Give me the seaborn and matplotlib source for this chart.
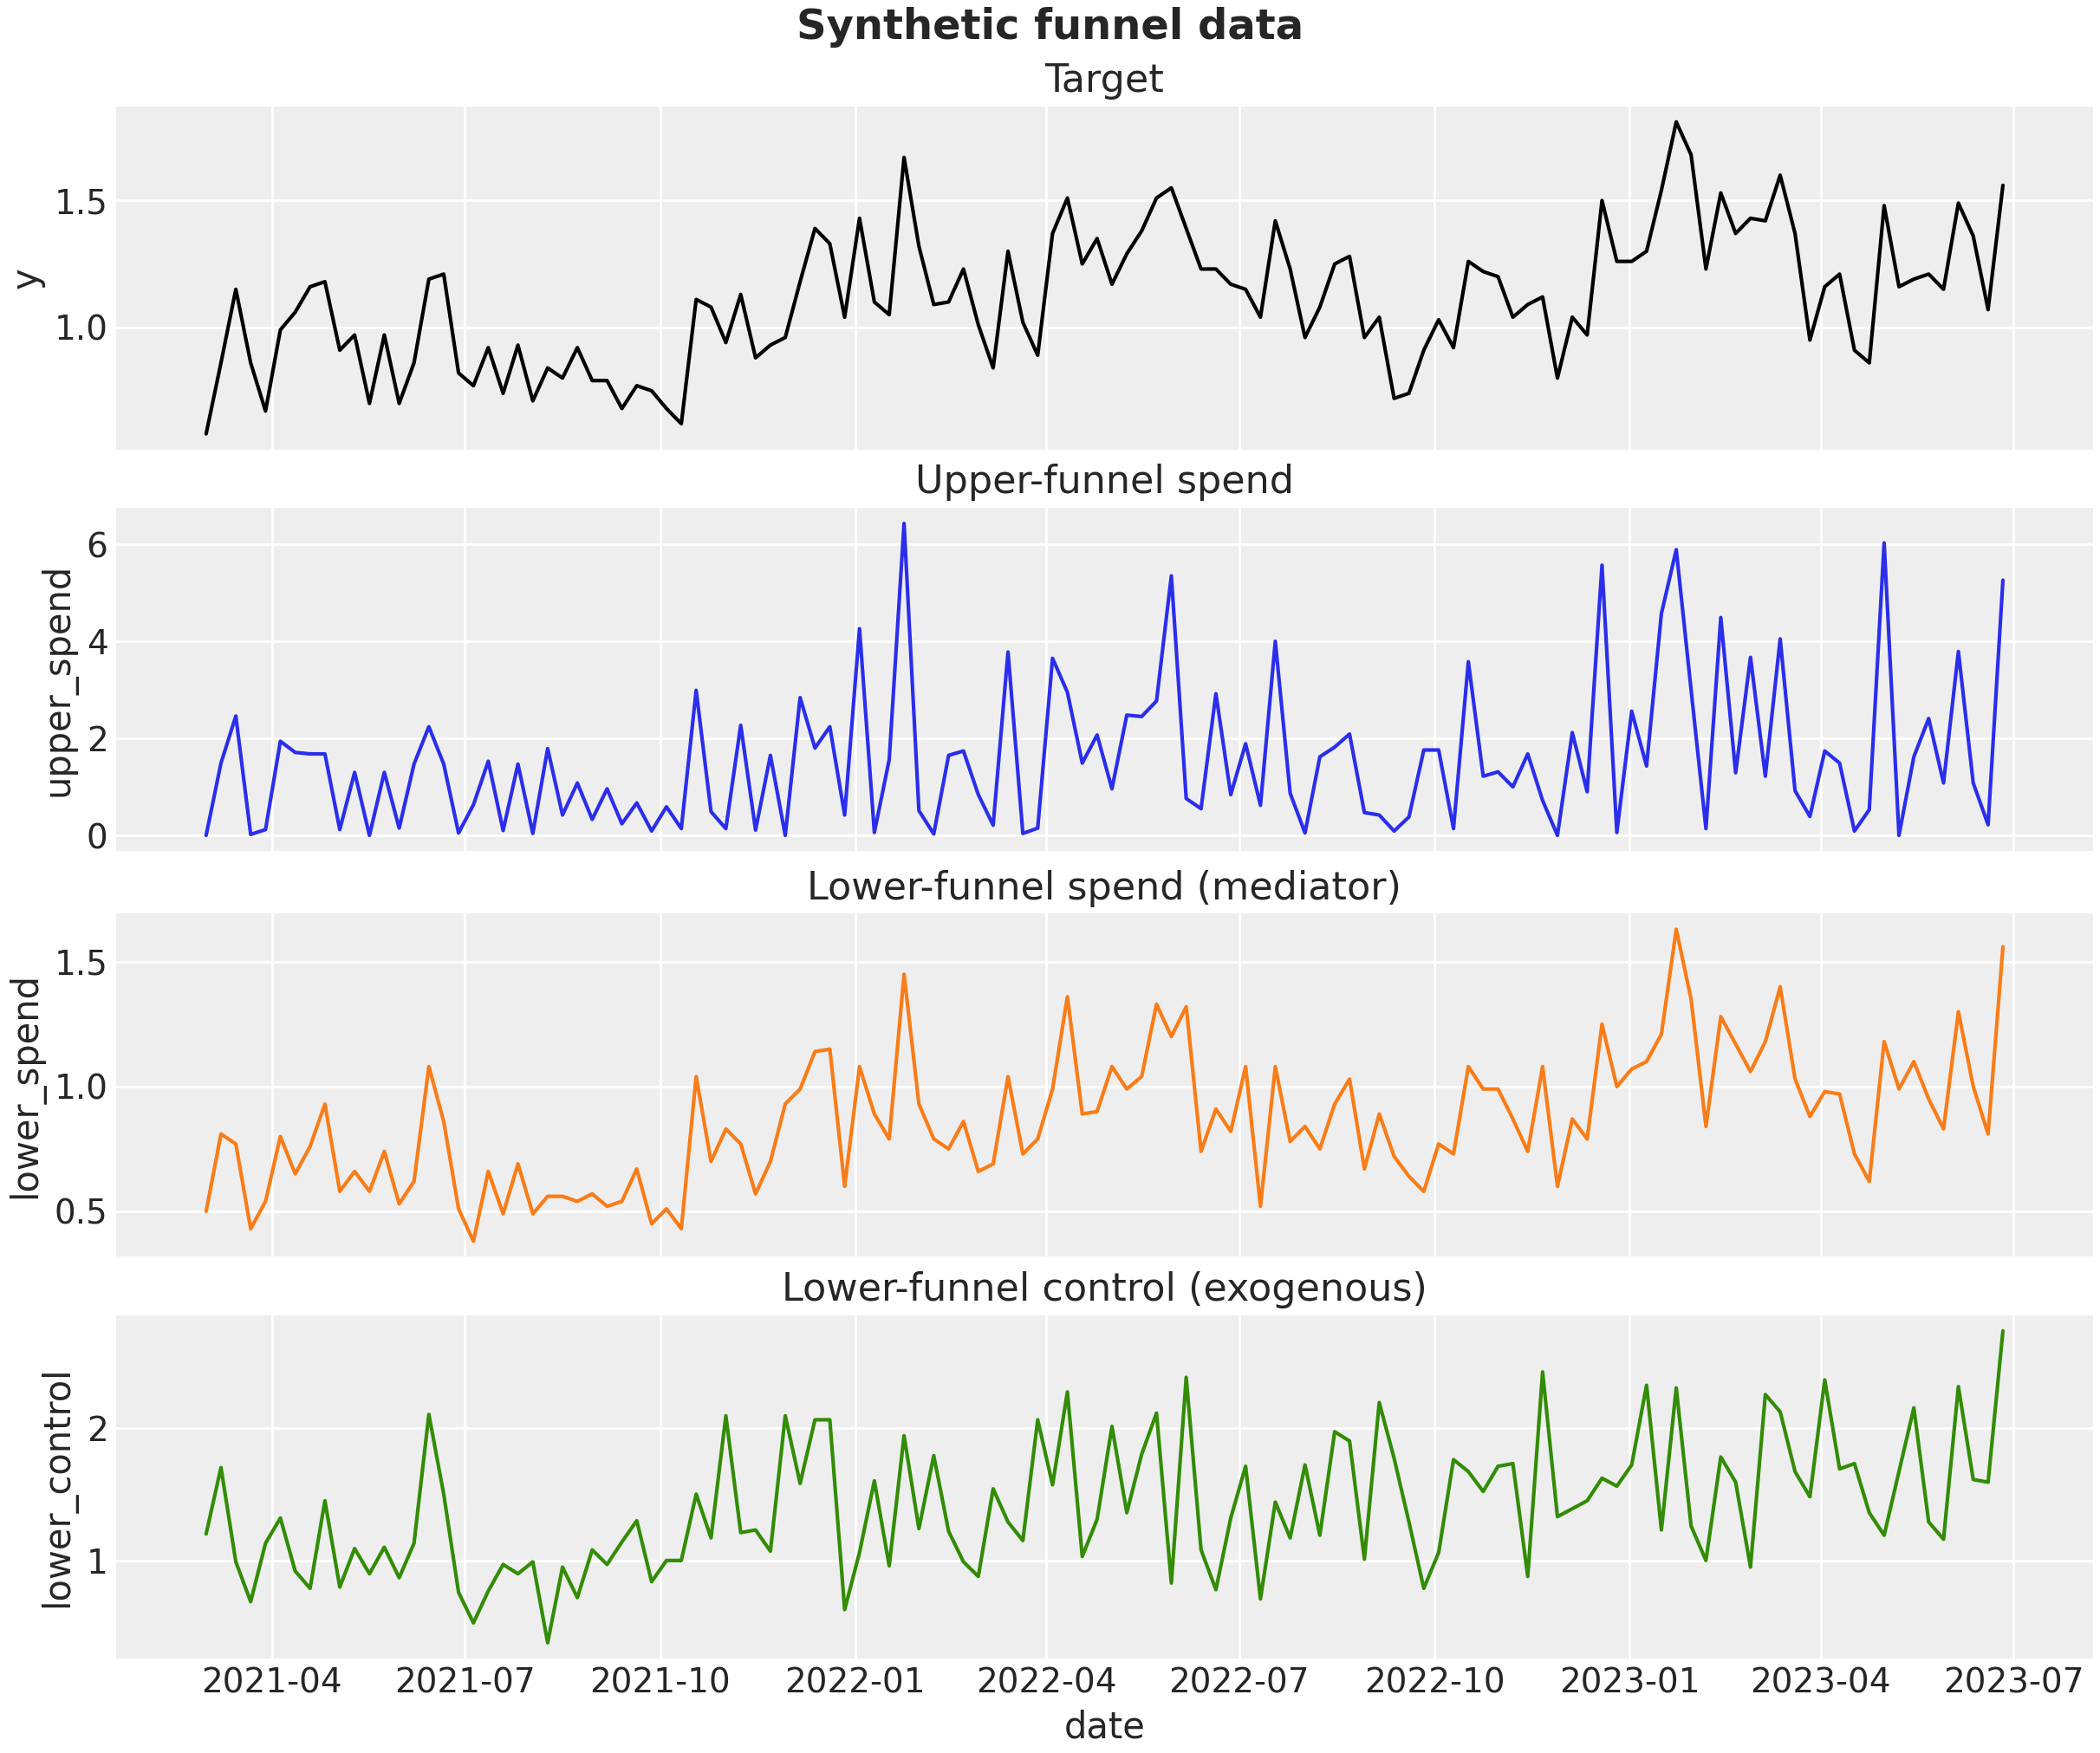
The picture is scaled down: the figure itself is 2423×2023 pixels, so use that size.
import pandas as pd
import seaborn as sns
import matplotlib.pyplot as plt
import matplotlib.dates as mdates
from matplotlib.ticker import MaxNLocator

START_DATE = "2021-03-01"
N_WEEKS = 122

target_y = [
    0.58, 0.86, 1.15, 0.86, 0.67, 0.99, 1.06, 1.16, 1.18, 0.91,
    0.97, 0.70, 0.97, 0.70, 0.86, 1.19, 1.21, 0.82, 0.77, 0.92,
    0.74, 0.93, 0.71, 0.84, 0.80, 0.92, 0.79, 0.79, 0.68, 0.77,
    0.75, 0.68, 0.62, 1.11, 1.08, 0.94, 1.13, 0.88, 0.93, 0.96,
    1.18, 1.39, 1.33, 1.04, 1.43, 1.10, 1.05, 1.67, 1.32, 1.09,
    1.10, 1.23, 1.01, 0.84, 1.30, 1.02, 0.89, 1.37, 1.51, 1.25,
    1.35, 1.17, 1.29, 1.38, 1.51, 1.55, 1.39, 1.23, 1.23, 1.17,
    1.15, 1.04, 1.42, 1.23, 0.96, 1.08, 1.25, 1.28, 0.96, 1.04,
    0.72, 0.74, 0.91, 1.03, 0.92, 1.26, 1.22, 1.20, 1.04, 1.09,
    1.12, 0.80, 1.04, 0.97, 1.50, 1.26, 1.26, 1.30, 1.54, 1.81,
    1.68, 1.23, 1.53, 1.37, 1.43, 1.42, 1.60, 1.37, 0.95, 1.16,
    1.21, 0.91, 0.86, 1.48, 1.16, 1.19, 1.21, 1.15, 1.49, 1.36,
    1.07, 1.56,
]

upper_spend = [
    0.00, 1.49, 2.46, 0.02, 0.12, 1.94, 1.71, 1.68, 1.68, 0.12,
    1.30, 0.00, 1.30, 0.15, 1.47, 2.24, 1.47, 0.05, 0.63, 1.53,
    0.10, 1.47, 0.04, 1.79, 0.42, 1.08, 0.33, 0.96, 0.24, 0.67,
    0.09, 0.59, 0.14, 2.99, 0.49, 0.14, 2.27, 0.11, 1.65, 0.00,
    2.84, 1.80, 2.24, 0.42, 4.26, 0.06, 1.56, 6.43, 0.51, 0.03,
    1.65, 1.74, 0.84, 0.21, 3.78, 0.04, 0.15, 3.65, 2.95, 1.49,
    2.07, 0.96, 2.48, 2.45, 2.77, 5.35, 0.76, 0.55, 2.92, 0.84,
    1.89, 0.62, 4.00, 0.87, 0.05, 1.62, 1.82, 2.09, 0.47, 0.42,
    0.09, 0.38, 1.76, 1.76, 0.14, 3.58, 1.22, 1.31, 1.00, 1.68,
    0.72, 0.00, 2.12, 0.90, 5.57, 0.06, 2.56, 1.43, 4.57, 5.89,
    3.00, 0.14, 4.49, 1.29, 3.67, 1.22, 4.05, 0.92, 0.39, 1.74,
    1.49, 0.09, 0.53, 6.03, 0.00, 1.62, 2.41, 1.08, 3.79, 1.08,
    0.22, 5.26,
]

lower_spend = [
    0.50, 0.81, 0.77, 0.43, 0.54, 0.80, 0.65, 0.76, 0.93, 0.58,
    0.66, 0.58, 0.74, 0.53, 0.62, 1.08, 0.86, 0.51, 0.38, 0.66,
    0.49, 0.69, 0.49, 0.56, 0.56, 0.54, 0.57, 0.52, 0.54, 0.67,
    0.45, 0.51, 0.43, 1.04, 0.70, 0.83, 0.77, 0.57, 0.70, 0.93,
    0.99, 1.14, 1.15, 0.60, 1.08, 0.89, 0.79, 1.45, 0.93, 0.79,
    0.75, 0.86, 0.66, 0.69, 1.04, 0.73, 0.79, 0.99, 1.36, 0.89,
    0.90, 1.08, 0.99, 1.04, 1.33, 1.20, 1.32, 0.74, 0.91, 0.82,
    1.08, 0.52, 1.08, 0.78, 0.84, 0.75, 0.93, 1.03, 0.67, 0.89,
    0.72, 0.64, 0.58, 0.77, 0.73, 1.08, 0.99, 0.99, 0.87, 0.74,
    1.08, 0.60, 0.87, 0.79, 1.25, 1.00, 1.07, 1.10, 1.21, 1.63,
    1.35, 0.84, 1.28, 1.17, 1.06, 1.18, 1.40, 1.03, 0.88, 0.98,
    0.97, 0.73, 0.62, 1.18, 0.99, 1.10, 0.95, 0.83, 1.30, 1.00,
    0.81, 1.56,
]

lower_control = [
    1.20, 1.70, 0.99, 0.69, 1.13, 1.32, 0.92, 0.79, 1.45, 0.80,
    1.09, 0.90, 1.10, 0.87, 1.13, 2.10, 1.50, 0.76, 0.53, 0.77,
    0.97, 0.90, 0.99, 0.38, 0.95, 0.72, 1.08, 0.97, 1.14, 1.30,
    0.84, 1.00, 1.00, 1.50, 1.17, 2.09, 1.21, 1.23, 1.07, 2.09,
    1.58, 2.06, 2.06, 0.63, 1.06, 1.60, 0.96, 1.94, 1.24, 1.79,
    1.22, 0.99, 0.88, 1.54, 1.29, 1.15, 2.06, 1.57, 2.27, 1.03,
    1.31, 2.01, 1.36, 1.80, 2.11, 0.83, 2.38, 1.08, 0.78, 1.32,
    1.71, 0.71, 1.44, 1.17, 1.72, 1.19, 1.97, 1.90, 1.01, 2.19,
    1.77, 1.29, 0.79, 1.06, 1.76, 1.67, 1.52, 1.71, 1.73, 0.88,
    2.42, 1.33, 1.39, 1.45, 1.62, 1.56, 1.72, 2.32, 1.23, 2.30,
    1.26, 1.00, 1.78, 1.59, 0.95, 2.25, 2.12, 1.67, 1.48, 2.36,
    1.69, 1.73, 1.36, 1.19, 1.67, 2.15, 1.29, 1.16, 2.31, 1.61,
    1.59, 2.73,
]

# (column, title, colour) for each panel
PANELS = [
    ("y", "Target", "black"),
    ("upper_spend", "Upper-funnel spend", "#2a2eec"),
    ("lower_spend", "Lower-funnel spend (mediator)", "#fa7c17"),
    ("lower_control", "Lower-funnel control (exogenous)", "#328c06"),
]

DPI = 200
FIGSIZE = [2423 / DPI, 2023 / DPI]

# arviz-darkgrid look
sns.set_theme(
    style="darkgrid",
    rc={
        "axes.facecolor": "#eeeeee",
        "axes.edgecolor": "white",
        "axes.linewidth": 0,
        "grid.color": "white",
        "grid.linewidth": 1.0,
        "text.color": "0.15",
        "axes.labelcolor": "0.15",
        "xtick.color": "0.15",
        "ytick.color": "0.15",
        "axes.labelsize": 15,
        "axes.titlesize": 16,
        "xtick.labelsize": 14,
        "ytick.labelsize": 14,
        "xtick.major.size": 0,
        "ytick.major.size": 0,
    },
)
plt.rcParams["font.family"] = ["DejaVu Sans"]

df = pd.DataFrame(
    {
        "date": pd.date_range(START_DATE, periods=N_WEEKS, freq="7D"),
        "y": target_y,
        "upper_spend": upper_spend,
        "lower_spend": lower_spend,
        "lower_control": lower_control,
    }
)

fig, axes = plt.subplots(
    nrows=4,
    ncols=1,
    figsize=FIGSIZE,
    dpi=DPI,
    sharex=True,
    layout="constrained",
)

for ax, (col, title, color) in zip(axes, PANELS):
    sns.lineplot(data=df, x="date", y=col, color=color, linewidth=1.5, ax=ax)
    ax.set_title(title)
    ax.set_ylabel(col)
    ax.yaxis.set_major_locator(MaxNLocator(nbins=4, steps=[1, 2, 2.5, 5, 10]))
    for spine in ax.spines.values():
        spine.set_visible(False)

axes[-1].xaxis.set_major_locator(mdates.MonthLocator(bymonth=[1, 4, 7, 10]))
axes[-1].xaxis.set_major_formatter(mdates.DateFormatter("%Y-%m"))
axes[-1].set_xlabel("date")

fig.suptitle("Synthetic funnel data", fontsize=17.28, fontweight="bold")

fig.savefig("out.png", dpi=DPI)
